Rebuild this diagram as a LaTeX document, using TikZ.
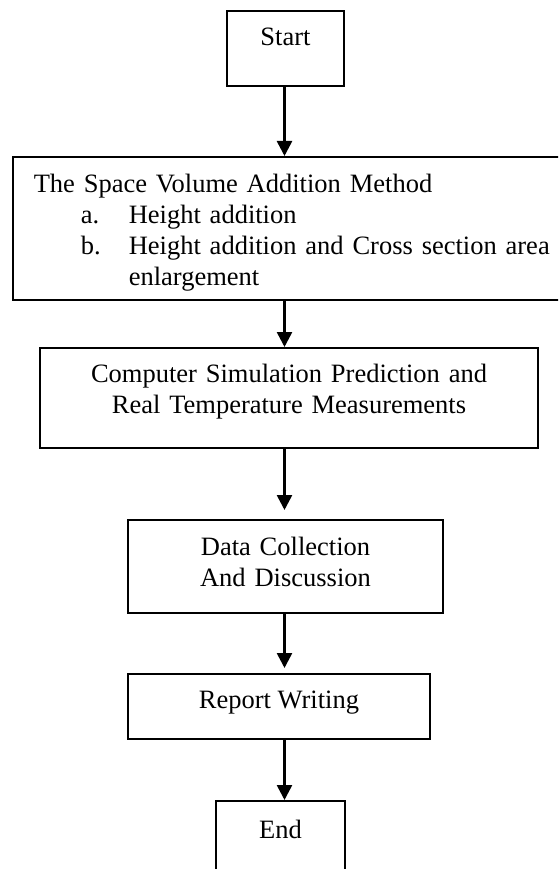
\documentclass[tikz,border=0pt]{standalone}
\usepackage{fontspec}
\setmainfont{Liberation Serif}
\usetikzlibrary{arrows.meta,calc}

\begin{document}
\begin{tikzpicture}[x=1pt,y=-1pt,
    flowbox/.style={draw,line width=1.6pt,inner sep=0pt,anchor=north,font=\fontsize{26.5}{31}\selectfont},
    flowline/.style={line width=2.6pt,-{Triangle[length=15pt,width=15pt]}}]
\useasboundingbox (0,0) rectangle (558,869);
\clip (0,0) rectangle (558,869);

\node[flowbox,minimum width=117pt,text height=35pt,text depth=40pt] (start) at (285.5,10) {Start};
\node[flowbox,anchor=north west,text width=542pt,align=left,inner xsep=21pt,text height=36pt,text depth=107pt] (svam) at (12,156) {The Space Volume Addition Method\\
    \hspace*{47pt}\makebox[48pt][l]{a.}Height addition\\
    \hspace*{47pt}\makebox[48pt][l]{b.}Height addition and Cross section area\\
    \hspace*{95pt}enlargement};
\node[flowbox,text width=498pt,align=center,text height=35pt,text depth=65pt] (csp) at (289,347) {Computer Simulation Prediction and\\Real Temperature Measurements};
\node[flowbox,text width=315pt,align=center,text height=36pt,text depth=57pt] (data) at (285.5,519) {Data Collection\\And Discussion};
\node[flowbox,minimum width=302pt,text height=35pt,text depth=30pt] (report) at (279,673) {Report Writing};
\node[flowbox,minimum width=129pt,text height=38pt,text depth=37pt] (end) at (280.5,800) {End};

\coordinate (spine) at (284.5,0);
\draw[flowline] (spine |- start.south) -- (spine |- svam.north); %Start
\draw[flowline] (spine |- svam.south) -- (spine |- csp.north); %Method
\draw[flowline,shorten >=9pt] (spine |- csp.south) -- (spine |- data.north); %Simulation
\draw[flowline,shorten >=5pt] (spine |- data.south) -- (spine |- report.north); %Data
\draw[flowline] (spine |- report.south) -- (spine |- end.north); %Report
\end{tikzpicture}
\end{document}
